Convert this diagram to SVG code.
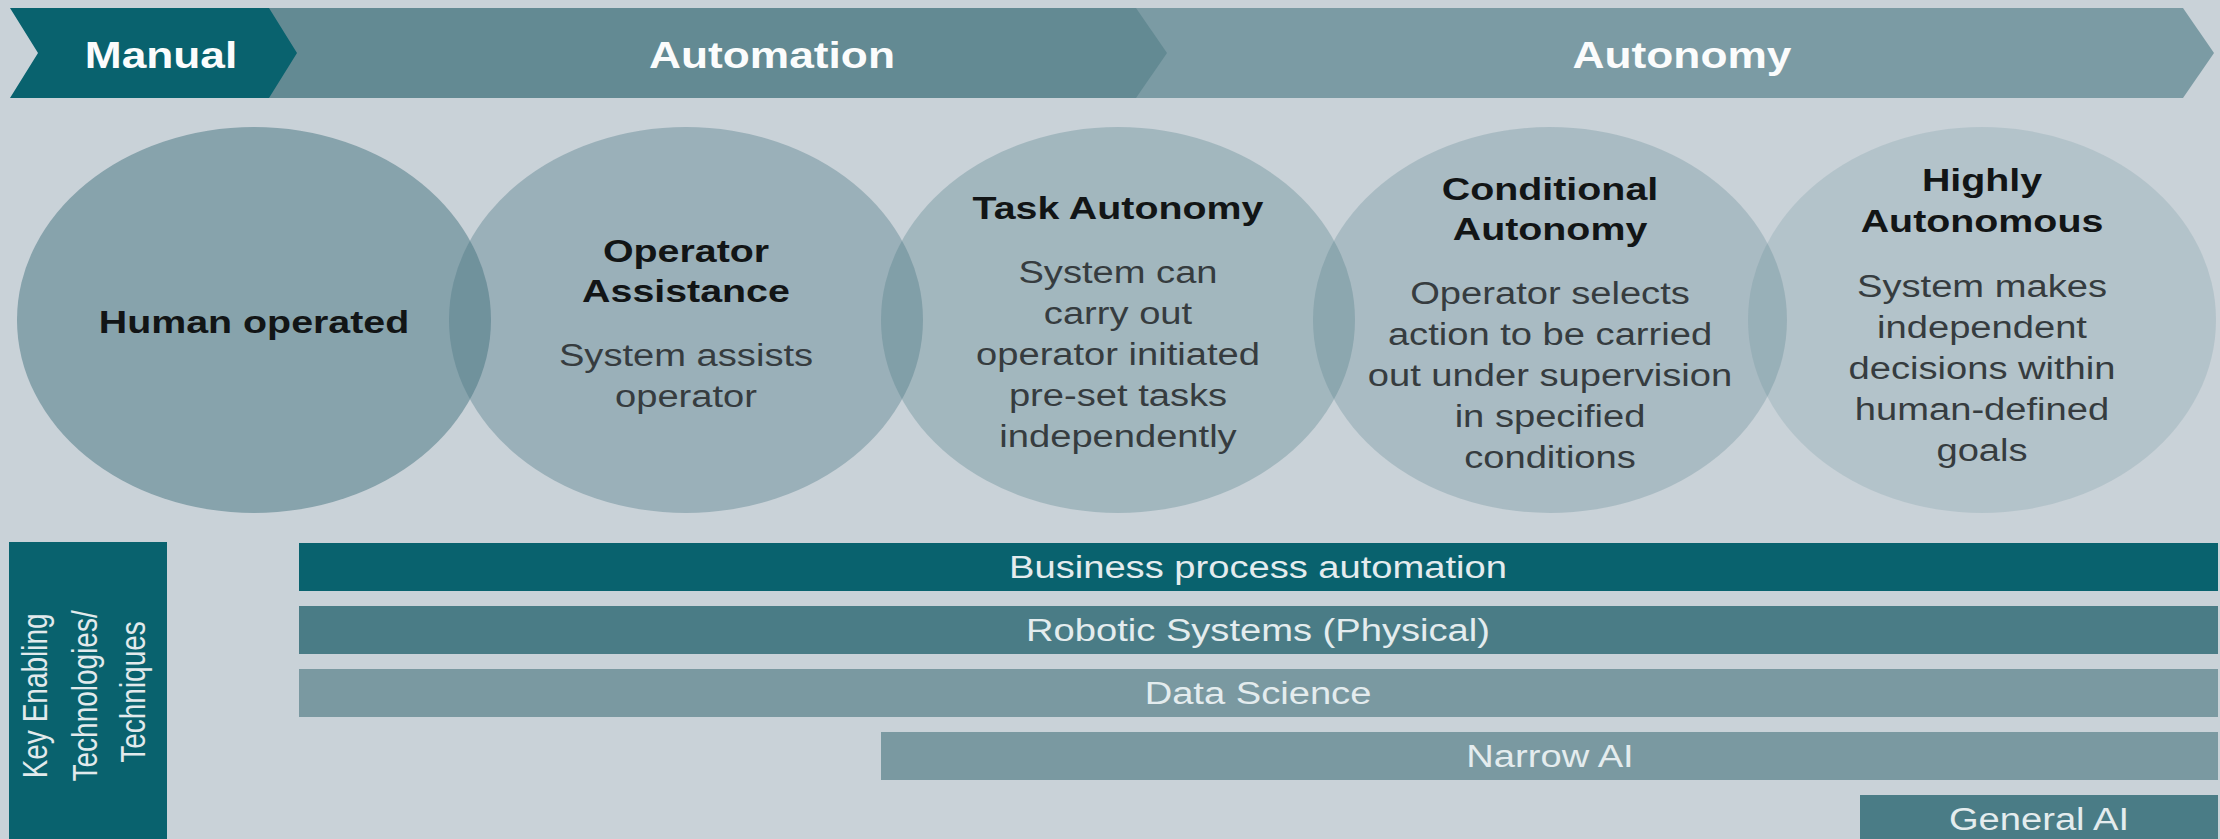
<svg xmlns="http://www.w3.org/2000/svg" width="2220" height="839" viewBox="0 0 2220 839">
  <style>
    .bg { fill: #c9d2d8; }
    .dark { fill: #09626e; }
    .mid { fill: #4a7c86; }
    .light { fill: #7a99a1; }
    .auto { fill: #638a93; }
    .circ { fill: #457480; }
    text { font-family: "Liberation Sans", Arial, sans-serif; text-anchor: middle; }
    .ban { font-size: 36px; font-weight: bold; fill: #fbfcfc; }
    .ttl { font-size: 32px; font-weight: bold; fill: #121516; }
    .dsc { font-size: 31px; fill: #363c3f; }
    .bar { font-size: 31px; fill: #e4ecee; }
    .vlab { font-size: 28px; fill: #e2eaec; }
  </style>
  <rect class="bg" x="0" y="0" width="2220" height="839"/>

  <g id="banner-autonomy">
    <polygon points="1130,8 2183,8 2214,53 2183,98 1130,98" fill="#7b9ba4"/>
    <text class="ban" transform="translate(1682 68) scale(1.23 1)">Autonomy</text>
  </g>
  <g id="banner-automation">
    <polygon class="auto" points="260,8 1136,8 1167,53 1136,98 260,98"/>
    <text class="ban" transform="translate(772 68) scale(1.23 1)">Automation</text>
  </g>
  <g id="banner-manual">
    <polygon class="dark" points="10,8 269,8 297,53 269,98 10,98 38,53"/>
    <text class="ban" transform="translate(161 68) scale(1.23 1)">Manual</text>
  </g>

  <g id="circle-human">
    <ellipse class="circ" cx="254" cy="320" rx="237" ry="193" fill-opacity="0.5"/>
    <text class="ttl" transform="translate(254 333) scale(1.23 1)">Human operated</text>
  </g>
  <g id="circle-assistance">
    <ellipse class="circ" cx="686" cy="320" rx="237" ry="193" fill-opacity="0.356"/>
    <text class="ttl" transform="translate(686 262) scale(1.23 1)">Operator</text>
    <text class="ttl" transform="translate(686 302) scale(1.23 1)">Assistance</text>
    <text class="dsc" transform="translate(686 366) scale(1.23 1)">System assists</text>
    <text class="dsc" transform="translate(686 407) scale(1.23 1)">operator</text>
  </g>
  <g id="circle-task">
    <ellipse class="circ" cx="1118" cy="320" rx="237" ry="193" fill-opacity="0.29"/>
    <text class="ttl" transform="translate(1118 219) scale(1.23 1)">Task Autonomy</text>
    <text class="dsc" transform="translate(1118 283) scale(1.23 1)">System can</text>
    <text class="dsc" transform="translate(1118 324) scale(1.23 1)">carry out</text>
    <text class="dsc" transform="translate(1118 365) scale(1.23 1)">operator initiated</text>
    <text class="dsc" transform="translate(1118 406) scale(1.23 1)">pre-set tasks</text>
    <text class="dsc" transform="translate(1118 447) scale(1.23 1)">independently</text>
  </g>
  <g id="circle-conditional">
    <ellipse class="circ" cx="1550" cy="320" rx="237" ry="193" fill-opacity="0.235"/>
    <text class="ttl" transform="translate(1550 200) scale(1.23 1)">Conditional</text>
    <text class="ttl" transform="translate(1550 240) scale(1.23 1)">Autonomy</text>
    <text class="dsc" transform="translate(1550 304) scale(1.23 1)">Operator selects</text>
    <text class="dsc" transform="translate(1550 345) scale(1.23 1)">action to be carried</text>
    <text class="dsc" transform="translate(1550 386) scale(1.23 1)">out under supervision</text>
    <text class="dsc" transform="translate(1550 427) scale(1.23 1)">in specified</text>
    <text class="dsc" transform="translate(1550 468) scale(1.23 1)">conditions</text>
  </g>
  <g id="circle-highly">
    <ellipse class="circ" cx="1982" cy="320" rx="234" ry="193" fill-opacity="0.16"/>
    <text class="ttl" transform="translate(1982 191) scale(1.23 1)">Highly</text>
    <text class="ttl" transform="translate(1982 232) scale(1.23 1)">Autonomous</text>
    <text class="dsc" transform="translate(1982 297) scale(1.23 1)">System makes</text>
    <text class="dsc" transform="translate(1982 338) scale(1.23 1)">independent</text>
    <text class="dsc" transform="translate(1982 379) scale(1.23 1)">decisions within</text>
    <text class="dsc" transform="translate(1982 420) scale(1.23 1)">human-defined</text>
    <text class="dsc" transform="translate(1982 461) scale(1.23 1)">goals</text>
  </g>

  <g id="label-key-enabling">
    <rect class="dark" x="9" y="542" width="158" height="297"/>
    <text class="vlab" transform="translate(0 692) scale(1.23 1) rotate(-90)">
      <tspan x="0" y="38">Key Enabling</tspan>
      <tspan x="0" y="78.5">Technologies/</tspan>
      <tspan x="0" y="118">Techniques</tspan>
    </text>
  </g>

  <g id="bar-business-process">
    <rect class="dark" x="299" y="543" width="1919" height="48"/>
    <text class="bar" transform="translate(1258 578) scale(1.23 1)">Business process automation</text>
  </g>
  <g id="bar-robotic">
    <rect class="mid" x="299" y="606" width="1919" height="48"/>
    <text class="bar" transform="translate(1258 641) scale(1.23 1)">Robotic Systems (Physical)</text>
  </g>
  <g id="bar-data-science">
    <rect class="light" x="299" y="669" width="1919" height="48"/>
    <text class="bar" transform="translate(1258 704) scale(1.23 1)">Data Science</text>
  </g>
  <g id="bar-narrow-ai">
    <rect class="light" x="881" y="732" width="1337" height="48"/>
    <text class="bar" transform="translate(1550 767) scale(1.23 1)">Narrow AI</text>
  </g>
  <g id="bar-general-ai">
    <rect class="mid" x="1860" y="795" width="358" height="48"/>
    <text class="bar" transform="translate(2039 830) scale(1.23 1)">General AI</text>
  </g>

  <g id="connectors"/>
</svg>
